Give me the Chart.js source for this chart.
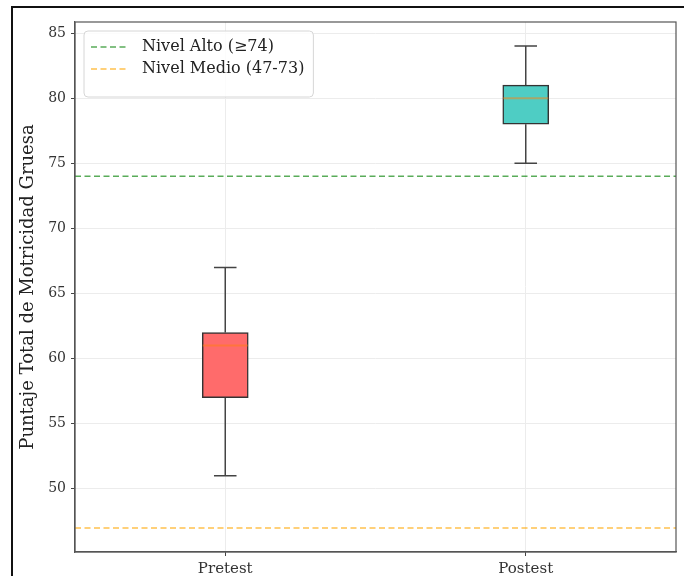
<!DOCTYPE html>
<html lang="es">
<head>
<meta charset="utf-8">
<title>Puntaje Total de Motricidad Gruesa</title>
<script src="https://cdn.jsdelivr.net/npm/chart.js@4.4.1/dist/chart.umd.min.js"></script>
<style>
  html, body { margin: 0; padding: 0; background: #fff; width: 684px; height: 576px; overflow: hidden; }
  #frame { position: absolute; left: 11px; top: 6px; width: 720px; height: 620px; border-left: 2px solid #111; border-top: 2px solid #111; box-sizing: border-box; pointer-events: none; }
  #wrap { position: absolute; left: 0; top: 0; width: 684px; height: 600px; }
</style>
</head>
<body>
<div id="wrap"><canvas id="chart"></canvas></div>
<div id="frame"></div>
<script>
// Groups and five-number summaries
const categories = ['Pretest', 'Postest'];
const positions = [1, 2];
const whiskerLow = [51, 75];
const q1 = [57, 78];
const median = [61, 80];
const q3 = [62, 81];
const whiskerHigh = [67, 84];
const boxColors = ['#ff6b6b', '#4ecdc4'];

// Reference levels
const refLabels = ['Nivel Alto (\u226574)', 'Nivel Medio (47-73)'];
const refValues = [74, 47];
const refColors = ['rgba(0,128,0,0.65)', 'rgba(255,165,0,0.7)'];

// Axis ticks
const yTicks = [50, 55, 60, 65, 70, 75, 80, 85];

const X_MIN = 0.5, X_MAX = 2.5;
const Y_MIN = 45.15, Y_MAX = 85.85;
const BOX_HALF = 0.075;
const CAP_HALF = 0.0375;

const whiskerData = [];
const capData = [];
const medianData = [];
positions.forEach((p, i) => {
  whiskerData.push({x: p, y: whiskerLow[i]}, {x: p, y: q1[i]}, {x: p, y: null},
                   {x: p, y: q3[i]}, {x: p, y: whiskerHigh[i]}, {x: p, y: null});
  capData.push({x: p - CAP_HALF, y: whiskerLow[i]}, {x: p + CAP_HALF, y: whiskerLow[i]}, {x: p, y: null},
               {x: p - CAP_HALF, y: whiskerHigh[i]}, {x: p + CAP_HALF, y: whiskerHigh[i]}, {x: p, y: null});
  medianData.push({x: p - BOX_HALF, y: median[i]}, {x: p + BOX_HALF, y: median[i]}, {x: p, y: null});
});

const refDatasets = refValues.map((v, i) => ({
  type: 'line',
  label: refLabels[i],
  data: [{x: X_MIN, y: v}, {x: X_MAX, y: v}],
  borderColor: refColors[i],
  borderWidth: 1.5,
  borderDash: [6, 3.5],
  pointRadius: 0,
  order: 0,
  isRef: true
}));

Chart.defaults.font.family = "'DejaVu Serif', serif";
Chart.defaults.color = '#333';

// Full rectangular frame around the plotting area
const framePlugin = {
  id: 'axesFrame',
  afterDatasetsDraw(chart) {
    const {ctx, chartArea: a} = chart;
    ctx.save();
    ctx.strokeStyle = '#555';
    ctx.lineWidth = 1.2;
    ctx.strokeRect(a.left, a.top, a.right - a.left, a.bottom - a.top);
    ctx.restore();
  }
};

// Legend box in the upper-left corner of the plotting area
const refLegend = {
  id: 'refLegend',
  afterDraw(chart) {
    const {ctx, chartArea: a} = chart;
    const items = chart.data.datasets.filter(d => d.isRef);
    const fontSize = 16;
    ctx.save();
    ctx.font = fontSize + "px 'DejaVu Serif', serif";
    const textW = Math.max(...items.map(d => ctx.measureText(d.label).width));
    const x0 = a.left + 9, y0 = a.top + 9;
    const lineLen = 38, gap = 13, padX = 7, rowH = 22;
    const w = padX + lineLen + gap + textW + 9;
    const h = items.length * rowH + 22;
    ctx.beginPath();
    ctx.roundRect(x0, y0, w, h, 4);
    ctx.fillStyle = 'rgba(255,255,255,0.85)';
    ctx.fill();
    ctx.strokeStyle = '#d6d6d6';
    ctx.lineWidth = 1;
    ctx.stroke();
    items.forEach((d, i) => {
      const cy = y0 + 16 + i * rowH;
      ctx.beginPath();
      ctx.setLineDash(d.borderDash);
      ctx.strokeStyle = d.borderColor;
      ctx.lineWidth = d.borderWidth;
      ctx.moveTo(x0 + padX, cy);
      ctx.lineTo(x0 + padX + lineLen, cy);
      ctx.stroke();
      ctx.setLineDash([]);
      ctx.fillStyle = '#222';
      ctx.textBaseline = 'middle';
      ctx.fillText(d.label, x0 + padX + lineLen + gap, cy);
    });
    ctx.restore();
  }
};

new Chart(document.getElementById('chart'), {
  type: 'bar',
  data: {
    datasets: [
      {
        type: 'line',
        label: 'whiskers',
        data: whiskerData,
        borderColor: '#444',
        borderWidth: 1.5,
        pointRadius: 0,
        spanGaps: false,
        order: 4
      },
      {
        type: 'line',
        label: 'caps',
        data: capData,
        borderColor: '#444',
        borderWidth: 1.5,
        pointRadius: 0,
        spanGaps: false,
        order: 4
      },
      {
        type: 'bar',
        label: 'boxes',
        data: positions.map((p, i) => ({x: p, y: [q1[i], q3[i]]})),
        backgroundColor: boxColors,
        borderColor: '#333',
        borderWidth: 1.5,
        borderSkipped: false,
        barThickness: 46,
        grouped: false,
        order: 3
      },
      {
        type: 'line',
        label: 'median',
        data: medianData,
        borderColor: 'rgba(255,127,14,0.5)',
        borderWidth: 2,
        pointRadius: 0,
        spanGaps: false,
        order: 2
      },
      ...refDatasets
    ]
  },
  options: {
    responsive: true,
    maintainAspectRatio: false,
    animation: false,
    layout: { padding: { left: 18, top: 22, right: 8, bottom: 18 } },
    plugins: {
      legend: { display: false },
      tooltip: { enabled: false }
    },
    scales: {
      x: {
        type: 'linear',
        offset: false,
        min: X_MIN,
        max: X_MAX,
        afterBuildTicks(scale) { scale.ticks = positions.map(v => ({value: v})); },
        afterFit(scale) { scale.height = 30; },
        ticks: {
          callback(v) { const i = positions.indexOf(v); return i >= 0 ? categories[i] : ''; },
          font: { size: 15 },
          color: '#333',
          padding: 4,
          maxRotation: 0
        },
        grid: { offset: false, color: '#ececec', lineWidth: 1, tickColor: '#444', tickLength: 4 },
        border: { color: '#555', width: 1.2 }
      },
      y: {
        type: 'linear',
        min: Y_MIN,
        max: Y_MAX,
        afterBuildTicks(scale) { scale.ticks = yTicks.map(v => ({value: v})); },
        afterFit(scale) { scale.width = 57; },
        ticks: { font: { size: 14 }, color: '#333', padding: 5 },
        grid: { color: '#ececec', lineWidth: 1, tickColor: '#444', tickLength: 4 },
        border: { color: '#555', width: 1.2 },
        title: {
          display: true,
          text: 'Puntaje Total de Motricidad Gruesa',
          font: { size: 18 },
          color: '#222',
          padding: 0
        }
      }
    }
  },
  plugins: [framePlugin, refLegend]
});
</script>
</body>
</html>
